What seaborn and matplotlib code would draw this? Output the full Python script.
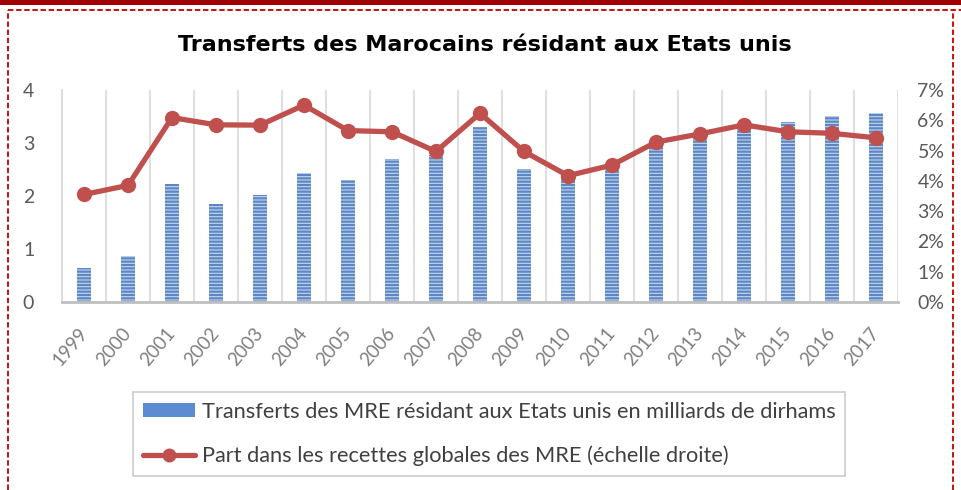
import numpy as np
import pandas as pd
import matplotlib
matplotlib.use("Agg")
import matplotlib.pyplot as plt
import seaborn as sns
from matplotlib.lines import Line2D
from matplotlib.patches import Rectangle, Patch
from matplotlib.ticker import PercentFormatter, MultipleLocator

# ---------------------------------------------------------
# Data
# ---------------------------------------------------------
years = [str(y) for y in range(1999, 2018)]
transferts = [0.65, 0.87, 2.23, 1.85, 2.02, 2.43, 2.30, 2.69, 2.78, 3.31,
              2.50, 2.35, 2.50, 2.98, 3.14, 3.36, 3.39, 3.51, 3.56]
part_pct = [3.55, 3.85, 6.09, 5.85, 5.84, 6.50, 5.66, 5.62, 4.97, 6.23,
            4.97, 4.17, 4.52, 5.28, 5.55, 5.85, 5.62, 5.57, 5.42]

bar_label = "Transferts des MRE résidant aux Etats unis en milliards de dirhams"
line_label = "Part dans les recettes globales des MRE (échelle droite)"
title = "Transferts des Marocains résidant aux Etats unis"

df = pd.DataFrame({"annee": years, "transferts": transferts, "part": part_pct})

# ---------------------------------------------------------
# Figure
# ---------------------------------------------------------
sns.set_theme(style="white")
plt.rcParams["font.family"] = ["Lato", "DejaVu Sans"]
plt.rcParams["hatch.linewidth"] = 1.6

W, H = 961, 490
fig = plt.figure(figsize=(W / 100, H / 100), dpi=100)
ax = fig.add_axes([62 / W, 1 - 302 / H, 836 / W, 212 / H])

gray = "#595959"
bar_face = "#c6d6ec"
bar_stripe = "#5b87c5"
red = "#c0504d"

sns.barplot(data=df, x="annee", y="transferts", ax=ax, width=0.34,
            color=bar_face, saturation=1, linewidth=0)
for p in ax.patches:
    p.set_hatch("-----")
    p.set_edgecolor(bar_stripe)
    p.set_linewidth(0)

ax.set_xlim(-0.5, len(years) - 0.5)
ax.set_ylim(0, 4)
ax.yaxis.set_major_locator(MultipleLocator(1))
ax.set_xlabel("")
ax.set_ylabel("")
ax.xaxis.set_minor_locator(MultipleLocator(1, offset=0.5))
ax.grid(axis="x", which="minor", color="#d9d9d9", lw=1.2)
ax.grid(axis="x", which="major", visible=False)
ax.set_axisbelow(True)
ax.tick_params(axis="x", which="both", length=0, labelsize=13.5,
               labelcolor="#808080", pad=20)
ax.tick_params(axis="y", length=0, labelsize=14, labelcolor=gray, pad=20)
for lab in ax.get_xticklabels():
    lab.set_rotation(50)
    lab.set_ha("right")
    lab.set_va("center")
    lab.set_rotation_mode("anchor")

for s in ["top", "right"]:
    ax.spines[s].set_visible(False)
ax.spines["left"].set_color("#d9d9d9")
ax.spines["left"].set_linewidth(1.2)
ax.spines["bottom"].set_color("#bfbfbf")
ax.spines["bottom"].set_linewidth(2)

# right axis: share of total transfers
ax2 = ax.twinx()
sns.lineplot(x=np.arange(len(years)), y=df["part"], ax=ax2, color=red,
             lw=3.8, marker="o", markersize=11, markeredgewidth=0)
ax2.set_ylim(0, 7)
ax2.yaxis.set_major_locator(MultipleLocator(1))
ax2.yaxis.set_major_formatter(PercentFormatter(decimals=0))
ax2.set_ylabel("")
ax2.tick_params(axis="y", length=0, labelsize=14, labelcolor=gray, pad=14)
for s in ["top", "right", "left", "bottom"]:
    ax2.spines[s].set_visible(False)
ax2.grid(False)

# title
fig.text(485 / W, 1 - 45 / H, title, ha="center", va="center",
         fontsize=16, fontweight="bold", color="black",
         family=["DejaVu Sans"])

# legend
handles = [Patch(facecolor="#5b8bd0", edgecolor="none", label=bar_label),
           Line2D([0], [0], color=red, lw=3.8, marker="o", markersize=9,
                  label=line_label)]
leg = fig.legend(handles=handles, loc="upper left",
                 bbox_to_anchor=(133 / W, 1 - 392 / H), frameon=True,
                 fancybox=False, edgecolor="#bfbfbf", fontsize=15.7,
                 handlelength=2.4, handleheight=0.6, handletextpad=0.3,
                 labelspacing=1.1, borderpad=0.45, borderaxespad=0,
                 labelcolor="#404040")
leg.get_frame().set_linewidth(1.2)

# page decoration (red border of the source document)
fig.add_artist(Rectangle((0, 1 - 5 / H), 1, 5 / H, transform=fig.transFigure,
                         facecolor="#a00000", edgecolor="none"))
dash = dict(color="#c00000", lw=1.3, ls=(0, (3, 1.5)), transform=fig.transFigure)
fig.add_artist(Line2D([8 / W, 1], [1 - 10 / H, 1 - 10 / H], **dash))
fig.add_artist(Line2D([8 / W, 8 / W], [0, 1 - 10 / H], **dash))
fig.add_artist(Line2D([953 / W, 953 / W], [0, 1 - 10 / H], **dash))

fig.savefig("out.png", dpi=100)
plt.close(fig)
